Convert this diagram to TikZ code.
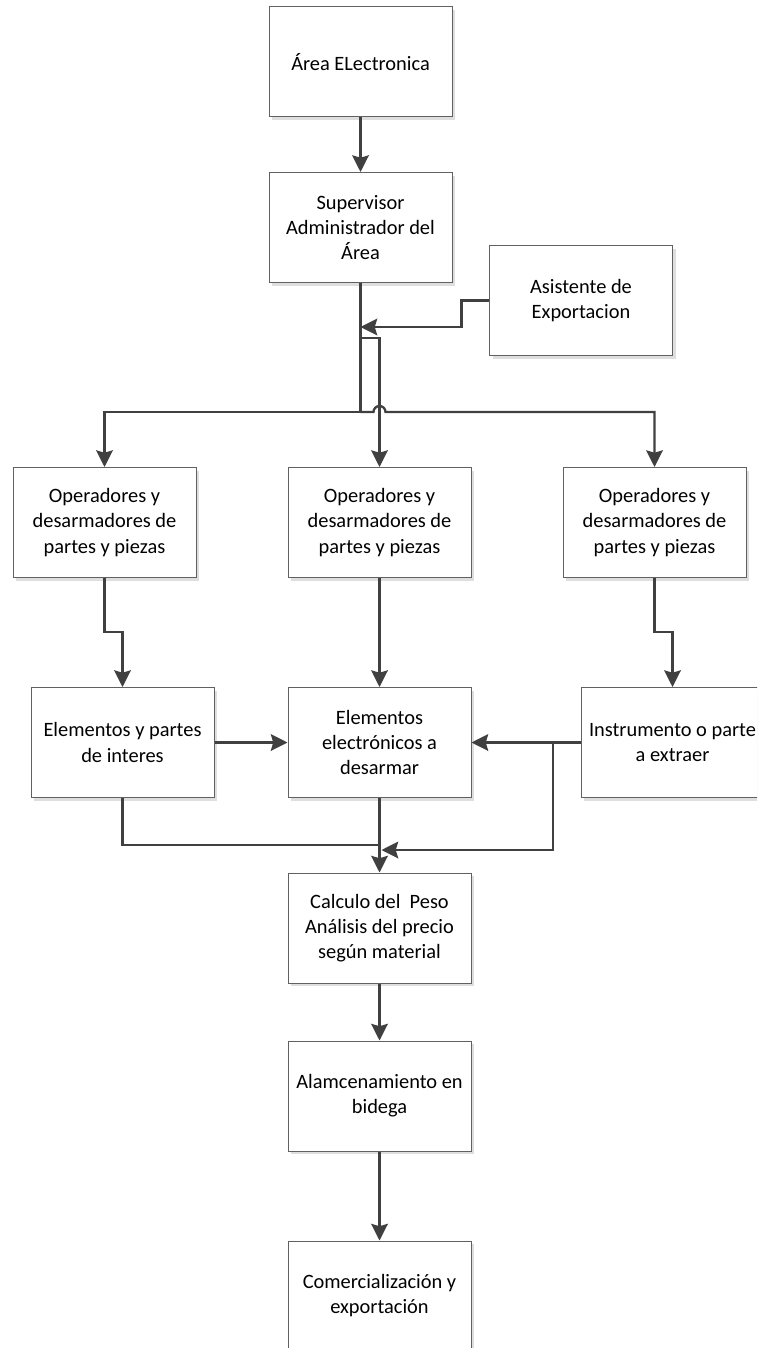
\documentclass[tikz,border=0pt]{standalone}
\usepackage{fontspec}
\setmainfont{Carlito}
\usetikzlibrary{arrows.meta,shadows}

\tikzset{
  box/.style={draw=black!62, line width=0.75pt, fill=white,
    minimum width=137.25pt, minimum height=82.5pt, inner sep=0pt,
    align=center, font=\fontsize{15.3pt}{18.8pt}\selectfont,
    general shadow={fill=black!13, shadow xshift=2.4pt, shadow yshift=-2.4pt}},
  conn/.style={draw=black!75, line width=1.75pt},
  arr/.style={conn, -{Stealth[length=12.5pt,width=12.5pt,inset=1.8pt]}}
}

\begin{document}
\begin{tikzpicture}[x=0.75pt,y=-0.75pt]
  \useasboundingbox (0,0) rectangle (757,1348);
  \clip (0,0) rectangle (757,1348);

  % boxes
  \node[box] (A)  at (360.5,62)    {Área ELectronica};
  \node[box] (B)  at (360.5,227.5) {Supervisor\\Administrador del\\Área};
  \node[box] (As) at (581,300.5)   {Asistente de\\Exportacion};

  \node[box] (O1) at (104.5,522.5) {Operadores y\\desarmadores de\\partes y piezas};
  \node[box] (O2) at (379.5,522.5) {Operadores y\\desarmadores de\\partes y piezas};
  \node[box] (O3) at (654.5,522.5) {Operadores y\\desarmadores de\\partes y piezas};

  \node[box] (E1) at (122.5,742.5) {Elementos y partes\\de interes};
  \node[box] (E2) at (379.5,742.5) {Elementos\\electrónicos a\\desarmar};
  \node[box] (E3) at (672.5,742.5) {Instrumento o parte\\a extraer};

  \node[box] (C)  at (379.5,928)   {Calculo del\ \ Peso\\Análisis del precio\\según material};
  \node[box] (Al) at (379.5,1096)  {Alamcenamiento en\\bidega};
  \node[box] (Co) at (379.5,1296)  {Comercialización y\\exportación};

  % junction points
  \coordinate (bus) at (360.5,412);
  \coordinate (j1)  at (360.5,327);
  \coordinate (j2)  at (360.5,338);
  \coordinate (j3)  at (553,742.5);
  \coordinate (m1)  at (379.5,845);
  \coordinate (m2)  at (379.5,850);

  % top of the chart
  \draw[arr] (A.south) -- (B.north);
  \draw[conn] (B.south) -- (bus);
  \draw[arr] (As.west) -- ++(-27.5,0) |- (j1);

  % distribution line with a hop over the middle feed
  \draw[arr] (bus) -| (O1.north);
  \draw[arr] (bus) -- (373.5,412) arc (180:360:6) -| (O3.north);
  \draw[arr] (j2) -| (O2.north);

  % operators to elements
  \draw[arr] (O1.south) -- ++(0,54) -| (E1.north);
  \draw[arr] (O2.south) -- (E2.north);
  \draw[arr] (O3.south) -- ++(0,54) -| (E3.north);

  \draw[arr] (E1.east) -- (E2.west);
  \draw[arr] (E3.west) -- (E2.east);

  % merge into the weighing step
  \draw[conn] (E1.south) |- (m1);
  \draw[arr] (j3) |- ([xshift=1.5pt]m2);
  \draw[arr] (E2.south) -- (C.north);

  \draw[arr] (C.south) -- (Al.north);
  \draw[arr] (Al.south) -- (Co.north);
\end{tikzpicture}
\end{document}
